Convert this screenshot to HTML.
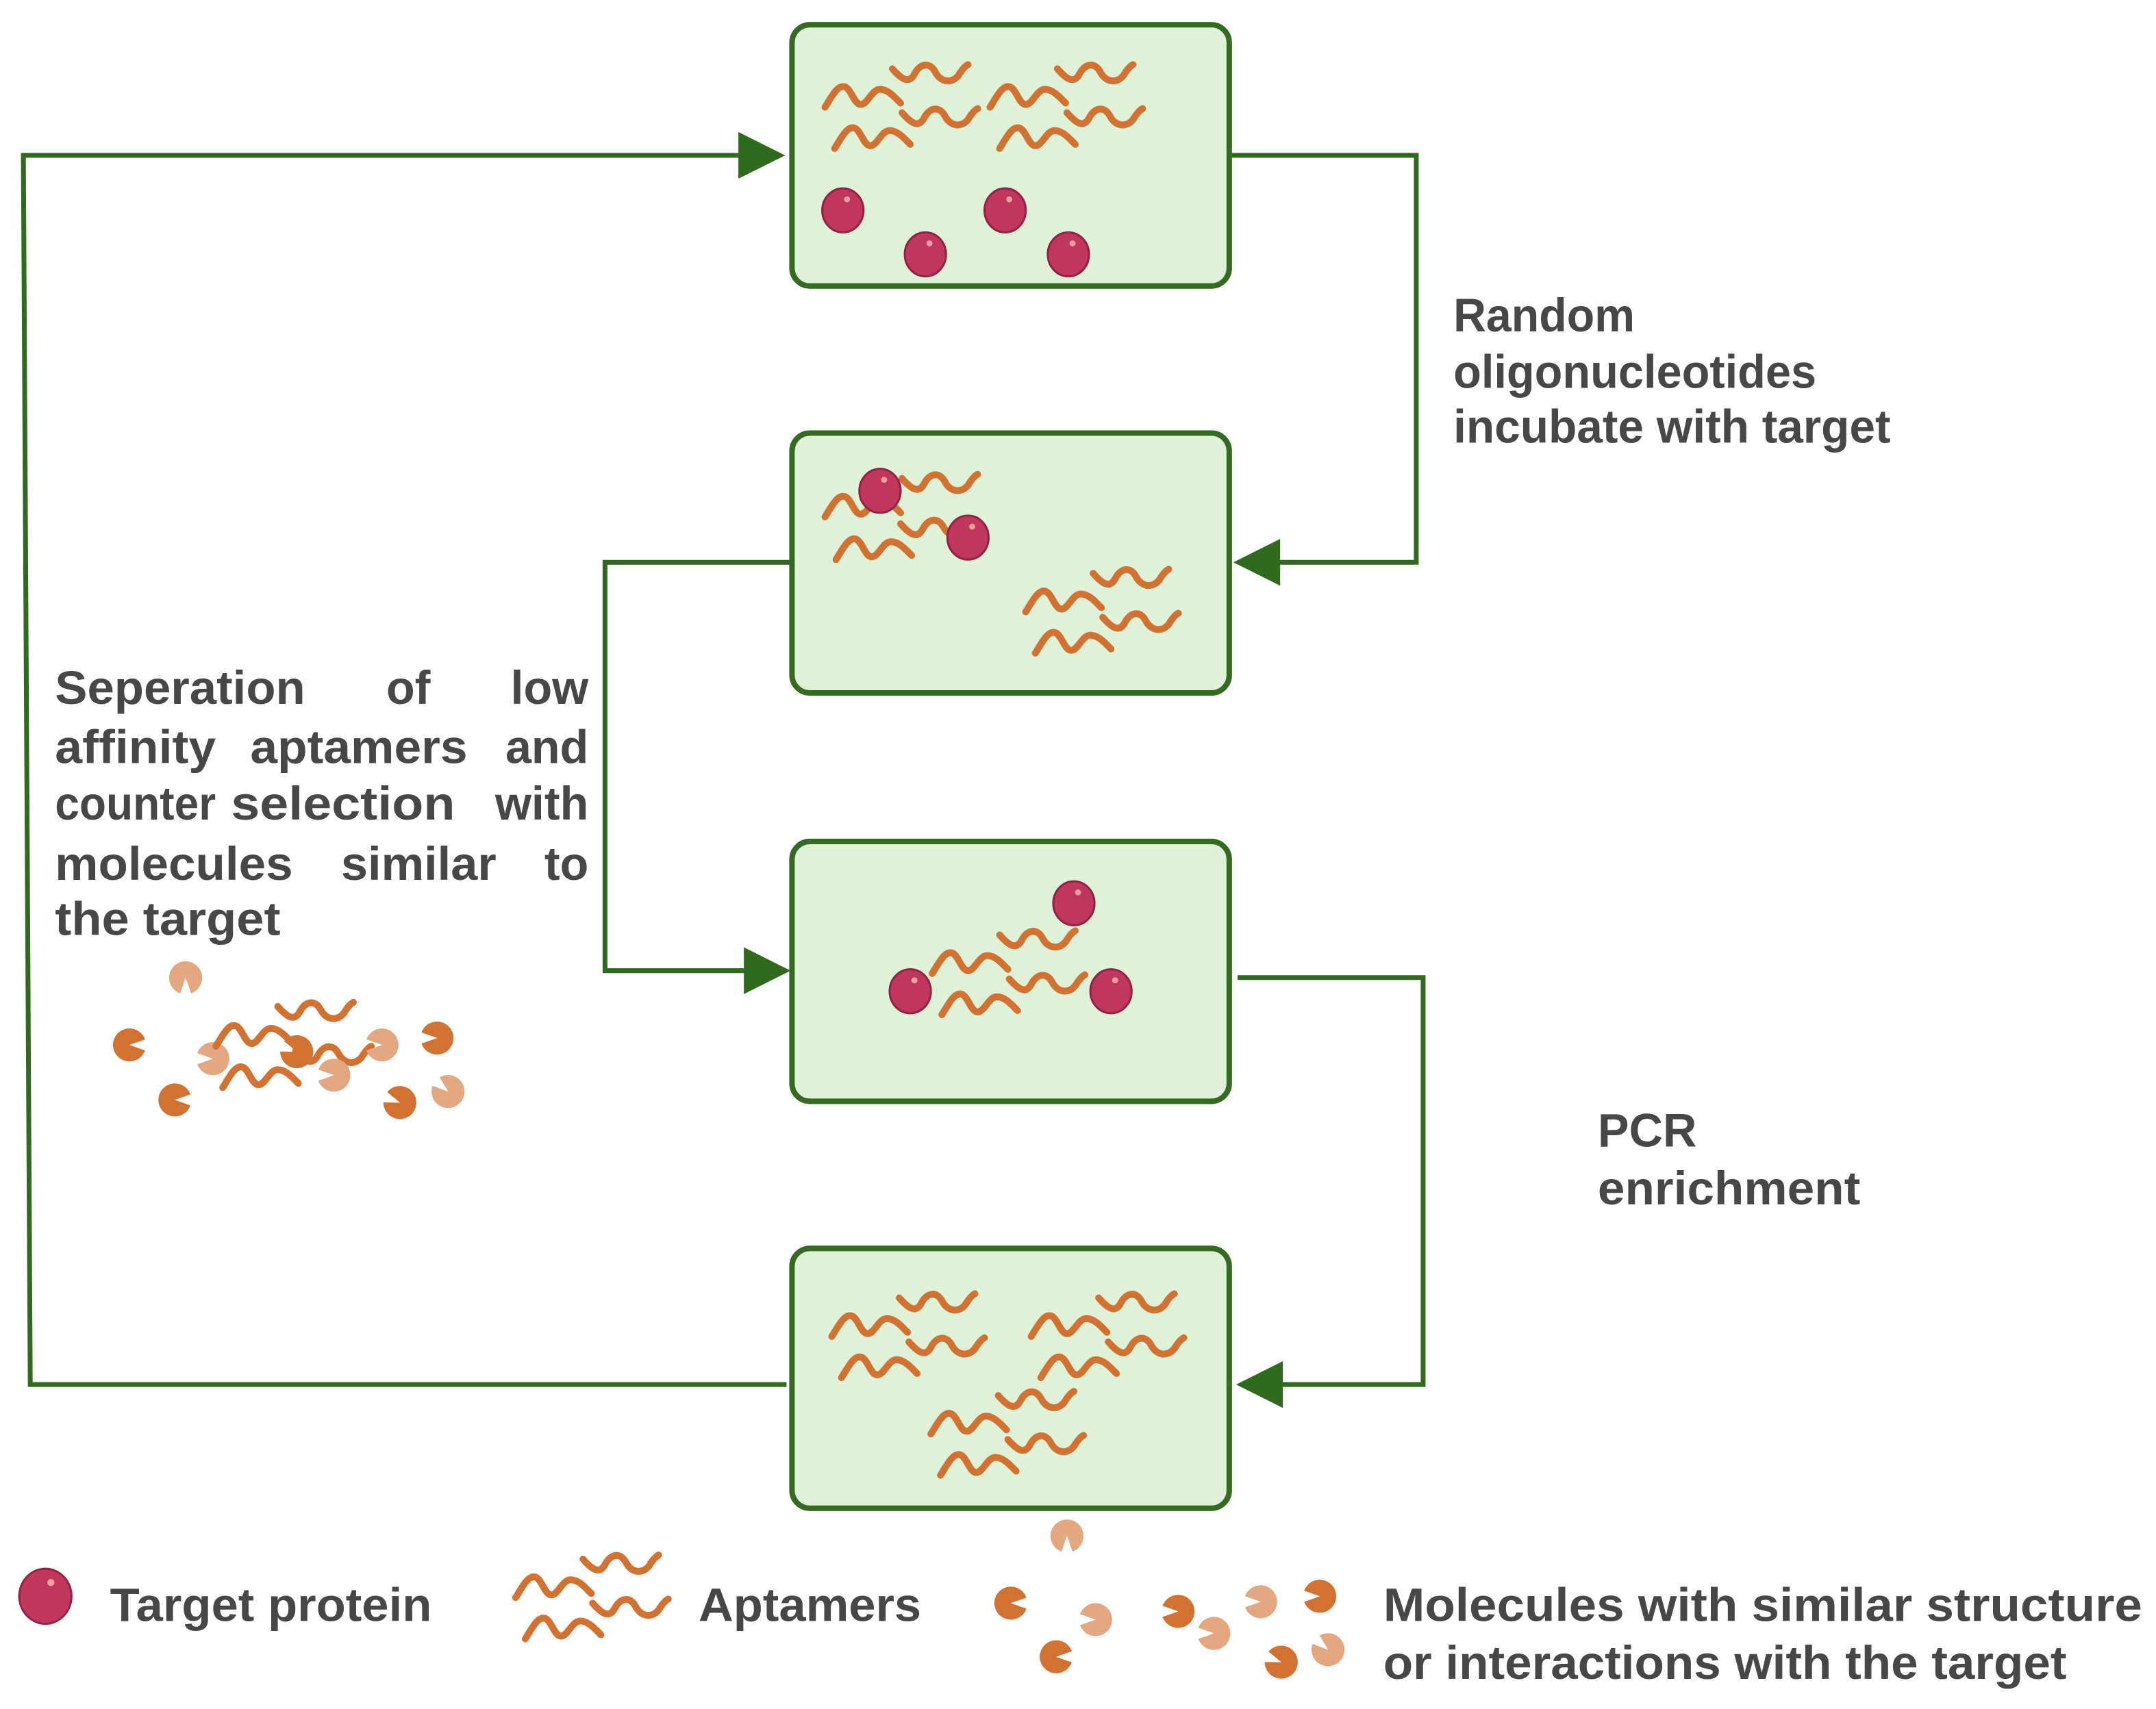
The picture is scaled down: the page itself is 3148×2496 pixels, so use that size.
<!DOCTYPE html>
<html><head><meta charset="utf-8"><style>
html,body{margin:0;padding:0;background:#fff;}
svg{display:block;}
text{font-family:"Liberation Sans",sans-serif;font-weight:bold;fill:#474747;font-size:34px;}
</style></head><body>
<svg width="3148" height="2496" viewBox="0 0 1568 1243" preserveAspectRatio="none" xmlns="http://www.w3.org/2000/svg">
<defs>
<path id="wu" d="M0,4 C7,12 12,15 16,8 C20,0 27,-1 31,6 C35,14 43,15 48,9 C51,4 53,2 55,1" fill="none" stroke="#d27232" stroke-width="5" stroke-linecap="round"/>
<path id="wn" d="M0,16 C5,8 9,0 14,1 C19,2 21,14 26,14 C31,14 34,3 40,3 C46,3 51,9 55,13" fill="none" stroke="#d27232" stroke-width="5" stroke-linecap="round"/>
<g id="grp"><use href="#wu" x="49" y="0"/><use href="#wn" x="0" y="16"/><use href="#wu" x="56" y="32"/><use href="#wn" x="7" y="46"/></g>
<g id="prot"><ellipse cx="0" cy="0" rx="15" ry="16" fill="#c1365d" stroke="#8e2344" stroke-width="1.5"/><circle cx="3" cy="-8" r="2.2" fill="#f4a0a0"/></g>
<path id="pm" d="M0,0 L11.5,-4 A12,12 0 1,0 11.5,4 Z"/>
</defs>
<g fill="#dff2d8" stroke="#346a22" stroke-width="4">
<rect x="576" y="18" width="318" height="190" rx="13"/>
<rect x="576" y="315" width="318" height="189" rx="13"/>
<rect x="576" y="612" width="318" height="189" rx="13"/>
<rect x="576" y="908" width="318" height="189" rx="13"/>
</g>
<g fill="none" stroke="#2f6a1e" stroke-width="3.5">
<polyline points="572,1007 22,1007 17,113 540,113"/>
<polyline points="896,113 1030,113 1030,409 928,409"/>
<polyline points="575,409 440,409 440,706 544,706"/>
<polyline points="900,711 1035,711 1035,1007 930,1007"/>
</g>
<g fill="#2f6a1e">
<polygon points="571,113 537,96 537,130"/>
<polygon points="897,409 931,392 931,426"/>
<polygon points="575,706 541,689 541,723"/>
<polygon points="899,1007 933,990 933,1024"/>
</g>
<!-- box1 -->
<use href="#grp" x="600" y="46"/><use href="#grp" x="720" y="46"/>
<use href="#prot" x="613" y="153"/><use href="#prot" x="673" y="185"/><use href="#prot" x="731" y="153"/><use href="#prot" x="777" y="185"/>
<!-- box2 -->
<use href="#wu" x="656" y="344"/><use href="#wn" x="600" y="360"/><use href="#wu" x="655" y="377"/><use href="#wn" x="608" y="391"/>
<use href="#prot" x="640" y="357"/><use href="#prot" x="704" y="391"/>
<use href="#grp" x="746" y="413"/>
<!-- box3 -->
<use href="#grp" x="678" y="676"/>
<use href="#prot" x="781" y="657"/><use href="#prot" x="662" y="721"/><use href="#prot" x="808" y="721"/>
<!-- box4 -->
<use href="#grp" x="605" y="940"/><use href="#grp" x="750" y="940"/><use href="#grp" x="677" y="1011"/>
<!-- left cluster -->
<g>
<use href="#pm" fill="#e3a882" transform="translate(135,711) rotate(90)"/>
<use href="#pm" fill="#d27232" transform="translate(94,760)"/>
<use href="#pm" fill="#e3a882" transform="translate(155,770) rotate(180)"/>
<use href="#wu" x="202" y="728"/><use href="#wn" x="157" y="745"/>
<use href="#pm" fill="#d27232" transform="translate(216,765) rotate(200)"/>
<use href="#wu" x="215" y="760"/><use href="#wn" x="162" y="775"/>
<use href="#pm" fill="#e3a882" transform="translate(278,760) rotate(180)"/>
<use href="#pm" fill="#d27232" transform="translate(318,755) rotate(180)"/>
<use href="#pm" fill="#e3a882" transform="translate(243,782) rotate(180)"/>
<use href="#pm" fill="#d27232" transform="translate(127,800)"/>
<use href="#pm" fill="#d27232" transform="translate(291,802) rotate(200)"/>
<use href="#pm" fill="#e3a882" transform="translate(326,794) rotate(220)"/>
</g>
<!-- legend -->
<ellipse cx="33" cy="1161" rx="19" ry="20" fill="#c1365d" stroke="#8e2344" stroke-width="1.5"/><circle cx="37" cy="1151" r="2.6" fill="#f4a0a0"/>
<text x="80" y="1179" textLength="234" lengthAdjust="spacingAndGlyphs">Target protein</text>
<use href="#grp" x="375" y="1130"/>
<text x="508" y="1179" textLength="162" lengthAdjust="spacingAndGlyphs">Aptamers</text>
<use href="#pm" fill="#e3a882" transform="translate(776,1117) rotate(90)"/>
<use href="#pm" fill="#d27232" transform="translate(735,1166)"/>
<use href="#pm" fill="#e3a882" transform="translate(797,1178) rotate(180)"/>
<use href="#pm" fill="#d27232" transform="translate(857,1172) rotate(180)"/>
<use href="#pm" fill="#e3a882" transform="translate(883,1188) rotate(180)"/>
<use href="#pm" fill="#e3a882" transform="translate(917,1165) rotate(180)"/>
<use href="#pm" fill="#d27232" transform="translate(960,1161) rotate(180)"/>
<use href="#pm" fill="#d27232" transform="translate(768,1205)"/>
<use href="#pm" fill="#d27232" transform="translate(932,1209) rotate(200)"/>
<use href="#pm" fill="#e3a882" transform="translate(966,1200) rotate(220)"/>
<text x="1006" y="1179" textLength="552" lengthAdjust="spacingAndGlyphs">Molecules with similar structure</text>
<text x="1006" y="1221" textLength="497" lengthAdjust="spacingAndGlyphs">or interactions with the target</text>
<!-- right texts -->
<text x="1057" y="241" textLength="132" lengthAdjust="spacingAndGlyphs">Random</text>
<text x="1057" y="282" textLength="264" lengthAdjust="spacingAndGlyphs">oligonucleotides</text>
<text x="1057" y="322" textLength="318" lengthAdjust="spacingAndGlyphs">incubate with target</text>
<text x="1162" y="834" textLength="72" lengthAdjust="spacingAndGlyphs">PCR</text>
<text x="1162" y="876" textLength="191" lengthAdjust="spacingAndGlyphs">enrichment</text>
<!-- left text -->
<text x="40" y="512" textLength="182" lengthAdjust="spacingAndGlyphs">Seperation</text>
<text x="297" y="512" text-anchor="middle">of</text>
<text x="428" y="512" text-anchor="end">low</text>
<text x="40" y="555" textLength="117" lengthAdjust="spacingAndGlyphs">affinity</text>
<text x="182" y="555" textLength="158" lengthAdjust="spacingAndGlyphs">aptamers</text>
<text x="428" y="555" text-anchor="end">and</text>
<text x="40" y="596" textLength="117" lengthAdjust="spacingAndGlyphs">counter</text>
<text x="168" y="596" textLength="163" lengthAdjust="spacingAndGlyphs">selection</text>
<text x="428" y="596" text-anchor="end">with</text>
<text x="40" y="640" textLength="173" lengthAdjust="spacingAndGlyphs">molecules</text>
<text x="248" y="640" textLength="113" lengthAdjust="spacingAndGlyphs">similar</text>
<text x="428" y="640" text-anchor="end">to</text>
<text x="40" y="680" textLength="164" lengthAdjust="spacingAndGlyphs">the target</text>
</svg>
</body></html>
